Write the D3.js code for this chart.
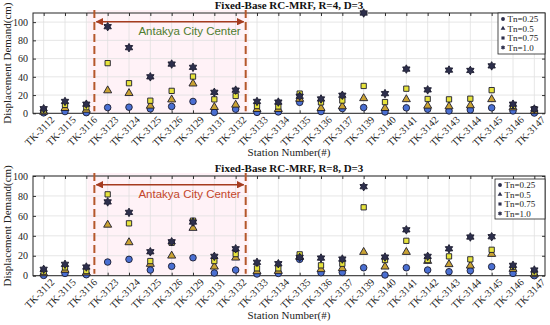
<!DOCTYPE html>
<html>
<head>
<meta charset="utf-8">
<script src="https://cdn.jsdelivr.net/npm/d3@7"></script>
<style>
  body { margin: 0; background: #fff; }
  svg { display: block; }
</style>
</head>
<body>
<svg id="chart" width="550" height="325"></svg>
<script>
// stations along the x axis
var stations = ['TK-3112', 'TK-3115', 'TK-3116', 'TK-3123', 'TK-3124', 'TK-3125', 'TK-3126', 'TK-3129',
	'TK-3131', 'TK-3132', 'TK-3133', 'TK-3134', 'TK-3135', 'TK-3136', 'TK-3137', 'TK-3139',
	'TK-3140', 'TK-3141', 'TK-3142', 'TK-3143', 'TK-3144', 'TK-3145', 'TK-3146', 'TK-3147'];

var seriesNames = ['Tn=0.25', 'Tn=0.5', 'Tn=0.75', 'Tn=1.0'];

// R=4
var r4Tn025 = [0.5, 1.9, 0.7, 6.3, 6.7, 4.9, 7.5, 13, 1, 4.5, 1, 1.5, 12, 1.9, 5.2, 6.3, 1.5, 6, 4.5, 2.6, 3.7, 6, 2.6, 0.3];
var r4Tn05 = [1.5, 5.6, 3.7, 25, 22, 8.2, 15, 32.5, 6.7, 9.3, 4.5, 4.5, 15.7, 5.6, 7.5, 16.4, 5.6, 15.3, 8.2, 7.5, 8.6, 15.3, 6.3, 2.2];
var r4Tn075 = [3, 9.3, 6.7, 55, 33, 13.8, 24.6, 40.3, 15.3, 19, 8, 7.5, 21.6, 12, 14, 30, 12.3, 27, 15.7, 15.3, 16, 25.4, 8.2, 4.5];
var r4Tn10 = [5, 13, 10, 95, 72, 40, 54, 50.4, 23, 25.4, 13, 12.3, 18.7, 15.7, 19.8, 110, 21.6, 48.5, 25.7, 47.4, 47, 52, 10, 4.7];

// R=8
var r8Tn025 = [0.3, 2.3, 1, 13.7, 16.4, 5.7, 9.4, 18, 2.7, 5.7, 1.7, 2.3, 16.4, 3, 3.3, 8, 0.7, 8, 5.7, 4, 5, 9, 2.3, 0];
var r8Tn05 = [2.3, 5.7, 3, 51, 33.4, 11.7, 20, 47.8, 9, 18, 4.3, 4.7, 19, 6.4, 7.4, 23.7, 9, 23.7, 14.7, 11.4, 10, 21.7, 6.7, 1.3];
var r8Tn075 = [4, 8.4, 4.7, 81.6, 52.5, 14.7, 33, 55.2, 14.7, 21.7, 7.4, 7.4, 21.4, 10.4, 12, 68.6, 15.7, 35, 15.7, 19.4, 16.4, 26, 9, 3];
var r8Tn10 = [6.4, 11.4, 8.7, 74, 63.5, 24, 34, 53.8, 19.4, 27, 13.4, 12, 18.4, 17.7, 16.7, 89.3, 18.7, 46, 19.4, 27, 38.8, 39.1, 10.4, 5.7];

var yTicks = [0, 20, 40, 60, 80, 100];
var cityCenter = ['TK-3123', 'TK-3132'];

// hexagram marker (matlab 'h')
var symbolHexagram = {
	draw: function (ctx, size) {
		var r = Math.sqrt(size / 2.1);
		var ri = r / Math.sqrt(3);
		for (var i = 0; i < 12; i++) {
			var a = -Math.PI / 2 + i * Math.PI / 6;
			var rr = i % 2 === 0 ? r : ri;
			var px = Math.cos(a) * rr, py = Math.sin(a) * rr;
			if (i === 0) ctx.moveTo(px, py); else ctx.lineTo(px, py);
		}
		ctx.closePath();
	}
};

var markers = [
	{ type: d3.symbolCircle, size: 34, fill: '#4a6fd2' },
	{ type: d3.symbolTriangle, size: 28, fill: '#c9a233' },
	{ type: d3.symbolSquare, size: 28, fill: '#e6e33c' },
	{ type: symbolHexagram, size: 38, fill: '#2d2f4c' }
];

var panels = [
	{ title: 'Fixed-Base RC-MRF, R=4, D=3', top: 13, bottom: 113.3, yMax: 110,
		series: [r4Tn025, r4Tn05, r4Tn075, r4Tn10], textColor: '#4f7d30',
		legend: { x: 498, y: 13, w: 47, h: 41 } },
	{ title: 'Fixed-Base RC-MRF, R=8, D=3', top: 176, bottom: 275.7, yMax: 100,
		series: [r8Tn025, r8Tn05, r8Tn075, r8Tn10], textColor: '#c4462b',
		legend: { x: 495, y: 179, w: 50, h: 40 } }
];

var svg = d3.select('#chart');
var left = 33, right = 545;
var serif = '"Liberation Serif", "Times New Roman", serif';

var x = d3.scalePoint()
	.domain(stations)
	.range([left, right])
	.padding(0.5);
var step = x.step();

svg.append('defs').append('marker')
	.attr('id', 'arrowHead')
	.attr('viewBox', '0 0 10 10')
	.attr('refX', 9)
	.attr('refY', 5)
	.attr('markerWidth', 5)
	.attr('markerHeight', 5)
	.attr('orient', 'auto-start-reverse')
	.append('path')
	.attr('d', 'M0,0 L10,5 L0,10 z')
	.attr('fill', '#a53b1f');

panels.forEach(function (p) {
	var g = svg.append('g');
	var y = d3.scaleLinear().domain([0, p.yMax]).range([p.bottom, p.top]);

	var bandL = x(cityCenter[0]) - step * 0.67;
	var bandR = x(cityCenter[1]) + step * 0.47;

	// pink highlight band
	g.append('rect')
		.attr('x', bandL - 6)
		.attr('y', p.top - 3)
		.attr('width', bandR - bandL + 9)
		.attr('height', p.bottom - p.top + 3)
		.attr('fill', '#ffd6e6')
		.attr('opacity', 0.32);

	// grid
	g.selectAll('.vgrid').data(stations).enter().append('line')
		.attr('x1', function (d) { return x(d); })
		.attr('x2', function (d) { return x(d); })
		.attr('y1', p.top).attr('y2', p.bottom)
		.attr('stroke', '#e0e0e0').attr('stroke-width', 0.8);
	g.selectAll('.hgrid').data(yTicks).enter().append('line')
		.attr('x1', left).attr('x2', right)
		.attr('y1', function (d) { return y(d); })
		.attr('y2', function (d) { return y(d); })
		.attr('stroke', '#e0e0e0').attr('stroke-width', 0.8);

	// axes
	var yAxis = g.append('g')
		.attr('transform', 'translate(' + left + ',0)')
		.call(d3.axisLeft(y).tickValues(yTicks).tickSize(-3).tickPadding(5));
	var yAxisR = g.append('g')
		.attr('transform', 'translate(' + right + ',0)')
		.call(d3.axisRight(y).tickValues(yTicks).tickSize(-3).tickFormat(''));
	var xAxis = g.append('g')
		.attr('transform', 'translate(0,' + p.bottom + ')')
		.call(d3.axisBottom(x).tickSize(-3).tickPadding(5));
	var xAxisT = g.append('g')
		.attr('transform', 'translate(0,' + p.top + ')')
		.call(d3.axisTop(x).tickSize(-3).tickFormat(''));
	[yAxis, yAxisR, xAxis, xAxisT].forEach(function (a) {
		a.select('.domain').remove();
		a.selectAll('line').attr('stroke', '#333');
		a.selectAll('text').attr('font-family', serif).attr('font-size', 10).attr('fill', '#222');
	});
	xAxis.selectAll('text')
		.attr('font-size', 10.2)
		.attr('text-anchor', 'end')
		.attr('dy', '0.35em')
		.attr('transform', 'translate(5,1) rotate(-45)');

	g.append('rect')
		.attr('x', left).attr('y', p.top)
		.attr('width', right - left).attr('height', p.bottom - p.top)
		.attr('fill', 'none').attr('stroke', '#262626').attr('stroke-width', 1);

	// city center annotation
	[bandL + 1, bandR].forEach(function (bx) {
		g.append('line')
			.attr('x1', bx).attr('x2', bx)
			.attr('y1', p.top - 3).attr('y2', p.bottom - 2)
			.attr('stroke', '#b5572b').attr('stroke-width', 2)
			.attr('stroke-dasharray', '8,4');
	});
	var arrowY = p.top + 8.7;
	g.append('line')
		.attr('x1', bandL + 3).attr('x2', bandR - 2)
		.attr('y1', arrowY).attr('y2', arrowY)
		.attr('stroke', '#a53b1f').attr('stroke-width', 1.5)
		.attr('marker-start', 'url(#arrowHead)')
		.attr('marker-end', 'url(#arrowHead)');
	g.append('text')
		.attr('x', (bandL + bandR) / 2 + 20)
		.attr('y', p.top + 22)
		.attr('text-anchor', 'middle')
		.attr('font-family', '"Liberation Sans", Arial, sans-serif')
		.attr('font-size', 11.5)
		.attr('fill', p.textColor)
		.text('Antakya City Center');

	// points
	p.series.forEach(function (vals, si) {
		var m = markers[si];
		var sym = d3.symbol().type(m.type).size(m.size);
		g.selectAll('.pt' + si).data(vals).enter().append('path')
			.attr('transform', function (d, i) { return 'translate(' + x(stations[i]) + ',' + y(d) + ')'; })
			.attr('d', sym)
			.attr('fill', m.fill)
			.attr('stroke', '#1b1b2e')
			.attr('stroke-width', 0.9);
	});

	// title and labels
	g.append('text')
		.attr('x', (left + right) / 2)
		.attr('y', p.top - 4)
		.attr('text-anchor', 'middle')
		.attr('font-family', serif)
		.attr('font-weight', 'bold')
		.attr('font-size', 11)
		.attr('fill', '#111')
		.text(p.title);
	g.append('text')
		.attr('transform', 'translate(11,' + (p.top + p.bottom) / 2 + ') rotate(-90)')
		.attr('text-anchor', 'middle')
		.attr('font-family', serif)
		.attr('font-size', 11)
		.attr('fill', '#222')
		.text('Displacement Demand(cm)');
	g.append('text')
		.attr('x', (left + right) / 2)
		.attr('y', p.bottom + 43)
		.attr('text-anchor', 'middle')
		.attr('font-family', serif)
		.attr('font-size', 11)
		.attr('fill', '#222')
		.text('Station Number(#)');

	// legend
	var lg = g.append('g').attr('transform', 'translate(' + p.legend.x + ',' + p.legend.y + ')');
	lg.append('rect')
		.attr('width', p.legend.w).attr('height', p.legend.h)
		.attr('fill', '#fff').attr('stroke', '#222').attr('stroke-width', 0.8);
	seriesNames.forEach(function (name, si) {
		var m = markers[si];
		var ly = 6 + si * 9.5;
		lg.append('path')
			.attr('transform', 'translate(5,' + ly + ')')
			.attr('d', d3.symbol().type(m.type).size(m.size * 0.35))
			.attr('fill', '#2d2f4c');
		lg.append('text')
			.attr('x', 9.5).attr('y', ly)
			.attr('dy', '0.35em')
			.attr('font-family', serif)
			.attr('font-size', 9)
			.attr('fill', '#222')
			.text(name);
	});
});
</script>
</body>
</html>
